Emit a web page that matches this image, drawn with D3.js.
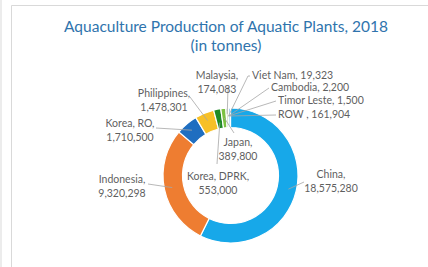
<!DOCTYPE html>
<html>
<head>
<meta charset="utf-8">
<script src="https://cdn.jsdelivr.net/npm/d3@7"></script>
<style>
  body { margin: 0; background: #fff; }
  svg { display: block; }
</style>
</head>
<body>
<svg id="chart" width="428" height="267"></svg>
<script>
// data, clockwise from 12 o'clock
var countries = ['China', 'Indonesia', 'Korea, RO', 'Philippines', 'Korea, DPRK', 'Japan',
                 'Malaysia', 'Viet Nam', 'Cambodia', 'Timor Leste', 'ROW'];
var values = [18575280, 9320298, 1710500, 1478301, 553000, 389800,
              174083, 19323, 2200, 1500, 161904];
var colors = ['#17a8e9', '#ee7d31', '#1f6ec0', '#f7c027', '#1e8a25', '#7cc142',
              '#c5dcb4', '#a9c9a0', '#b8d2e0', '#a8cce3', '#9fcbe8'];
var labelText = [
    ['China,', '18,575,280'],
    ['Indonesia,', '9,320,298'],
    ['Korea, RO,', '1,710,500'],
    ['Philippines,', '1,478,301'],
    ['Korea, DPRK,', '553,000'],
    ['Japan,', '389,800'],
    ['Malaysia,', '174,083'],
    ['Viet Nam, 19,323'],
    ['Cambodia, 2,200'],
    ['Timor Leste, 1,500'],
    ['ROW , 161,904']
];

var svg = d3.select('#chart');
var cx = 230.5, cy = 175.5, rOut = 67.5, rIn = 48;

// chart frame
svg.append('line').attr('x1', 1).attr('y1', 0).attr('x2', 1).attr('y2', 267)
    .attr('stroke', '#ececec').attr('stroke-width', 2);
svg.append('path').attr('d', 'M11.5,267V5.5H428')
    .attr('fill', 'none').attr('stroke', '#d9d9d9').attr('stroke-width', 1);

// title
var title = svg.append('text')
    .attr('text-anchor', 'middle')
    .attr('font-family', 'Lato, sans-serif').attr('font-size', 15.5)
    .attr('fill', '#2f74ad');
title.append('tspan').attr('x', 226).attr('y', 32).text('Aquaculture Production of Aquatic Plants, 2018');
title.append('tspan').attr('x', 226).attr('y', 51).text('(in tonnes)');

var pie = d3.pie().sort(null).value(function(d){ return d; });
var arcs = pie(values);
var arc = d3.arc().innerRadius(rIn).outerRadius(rOut);

var g = svg.append('g').attr('transform', 'translate(' + cx + ',' + cy + ')');

g.selectAll('path.slice').data(arcs).enter().append('path')
    .attr('class', 'slice')
    .attr('d', arc)
    .attr('fill', function(d, i){ return colors[i]; })
    .attr('stroke', '#fff').attr('stroke-width', 1.2);

// label layout: text anchor point, leader start radius, leader end point, optional bend x
var labelPos = [
    {x: 331, y: 178, anchor: 'middle', r: rOut - 8, lx: 304, ly: 182},
    {x: 122, y: 183, anchor: 'middle', r: rOut - 8, lx: 148, ly: 184},
    {x: 130, y: 127, anchor: 'middle', r: rOut - 8, lx: 156, ly: 128},
    {x: 164, y: 97,  anchor: 'middle', r: rOut - 8, lx: 190, ly: 97},
    {x: 218, y: 180, anchor: 'middle', r: rIn + 6,  lx: 217, ly: 164},
    {x: 238, y: 146, anchor: 'middle', r: rIn + 10, lx: 234, ly: 133},
    {x: 217, y: 79,  anchor: 'middle', r: rOut - 6, lx: 228, ly: 87},
    {x: 252, y: 79,  anchor: 'start',  r: rOut - 8, lx: 250, ly: 76, bx: 248},
    {x: 271, y: 91,  anchor: 'start',  r: rOut - 8, lx: 269, ly: 88},
    {x: 278, y: 104, anchor: 'start',  r: rOut - 8, lx: 276, ly: 101},
    {x: 278, y: 118, anchor: 'start',  r: rOut - 8, lx: 276, ly: 115}
];

arcs.forEach(function(d, i){
    var p = labelPos[i];
    var mid = (d.startAngle + d.endAngle) / 2;
    var sx = cx + Math.sin(mid) * p.r;
    var sy = cy - Math.cos(mid) * p.r;
    var pts = [[sx, sy]];
    if (p.bx != null) pts.push([p.bx, p.ly]);
    pts.push([p.lx, p.ly]);
    svg.append('path')
        .attr('d', d3.line()(pts))
        .attr('fill', 'none')
        .attr('stroke', '#a6a6a6').attr('stroke-width', 0.8);

    var t = svg.append('text')
        .attr('text-anchor', p.anchor)
        .attr('font-family', 'Lato, sans-serif').attr('font-size', 10.5)
        .attr('fill', '#5f5f5f');
    labelText[i].forEach(function(line, k){
        t.append('tspan').attr('x', p.x).attr('y', p.y + k * 14).text(line);
    });
});
</script>
</body>
</html>
